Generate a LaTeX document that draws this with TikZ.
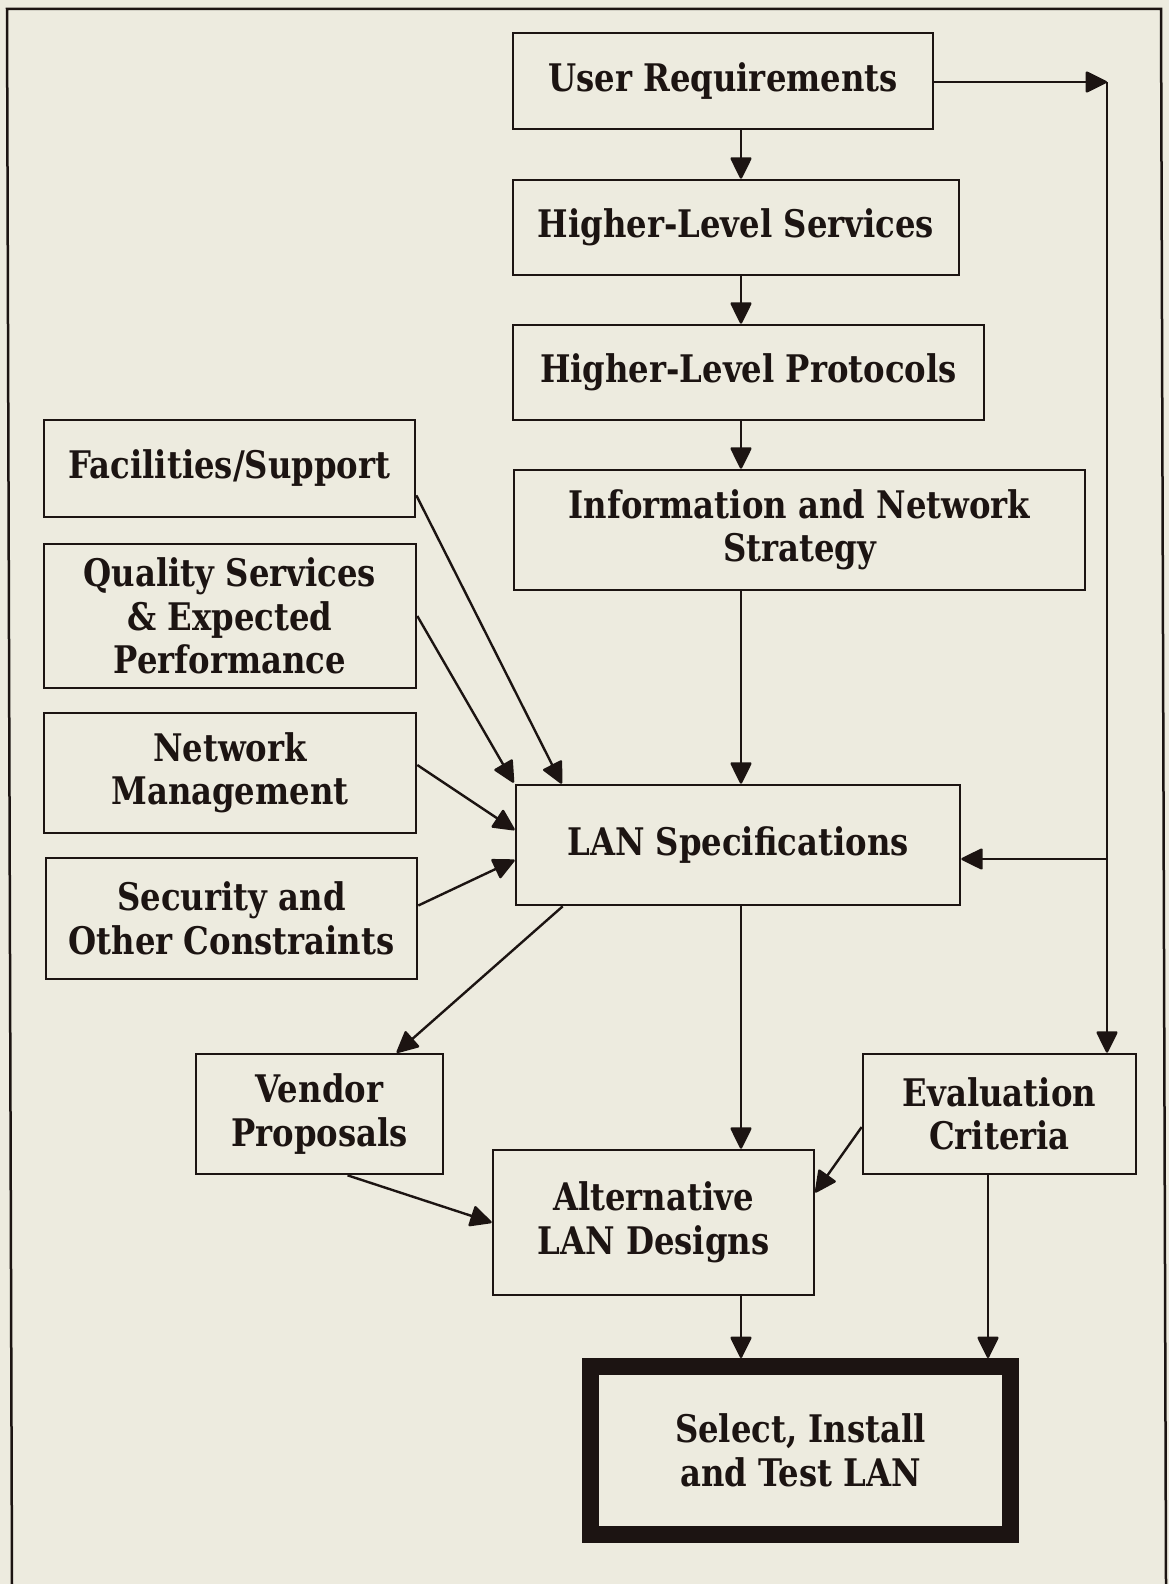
\documentclass[tikz,border=0pt]{standalone}
\usepackage{fontspec}
\setmainfont{DejaVu Serif}[FakeStretch=0.85]
\usetikzlibrary{arrows.meta,calc}
\definecolor{paper}{RGB}{237,235,223}
\definecolor{ink}{RGB}{28,20,18}
\begin{document}
\begin{tikzpicture}[x=1pt,y=-1pt,
  box/.style={draw=ink, line width=2.6pt, align=center, inner sep=0pt, text=ink,
    font=\fontsize{38}{43.5}\selectfont\bfseries},
  bigbox/.style={box, line width=17pt},
  arr/.style={draw=ink, line width=2.4pt, line join=round,
    -{Triangle[length=23pt,width=22pt,round]}}]

% page and frame
\useasboundingbox[fill=paper] (0,0) rectangle (1169,1584);
\draw[ink, line width=2.5pt] (12,1584) -- (7,9) -- (1161,9) -- (1166,1584);

% main chain
\node[box, minimum width=420pt, minimum height=96pt] (ur)  at (723,81)     {User Requirements};
\node[box, minimum width=446pt, minimum height=95pt] (hls) at (736,227.5)  {Higher-Level Services};
\node[box, minimum width=471pt, minimum height=95pt] (hlp) at (748.5,372.5){Higher-Level Protocols};
\node[box, minimum width=571pt, minimum height=120pt] (ins) at (799.5,530) {Information and Network\\Strategy};
\node[box, minimum width=444pt, minimum height=120pt] (lan) at (738,845)   {LAN Specifications};

% side inputs
\node[box, minimum width=371pt, minimum height=97pt]  (fac) at (229.5,468.5) {Facilities/Support};
\node[box, minimum width=372pt, minimum height=144pt] (qos) at (230,616)     {Quality Services\\\& Expected\\Performance};
\node[box, minimum width=372pt, minimum height=120pt] (nm)  at (230,773)     {Network\\Management};
\node[box, minimum width=371pt, minimum height=121pt] (sec) at (231.5,918.5) {Security and\\Other Constraints};

% lower part
\node[box, minimum width=247pt, minimum height=120pt] (ven) at (319.5,1114)  {Vendor\\Proposals};
\node[box, minimum width=273pt, minimum height=120pt] (eva) at (999.5,1114)  {Evaluation\\Criteria};
\node[box, minimum width=321pt, minimum height=145pt] (alt) at (653.5,1222.5){Alternative\\LAN Designs};
\node[bigbox, minimum width=420pt, minimum height=168pt] (sel) at (800.5,1450.5){Select, Install\\and Test LAN};

% routing points
\coordinate (spine) at (741,0);
\coordinate (bus) at (1107,82);
\coordinate (busLan) at (1107,859);
\coordinate (evx) at (988,0);

% vertical chain
\draw[arr] (ur.south -| spine)  -- (hls.north -| spine);
\draw[arr] (hls.south -| spine) -- (hlp.north -| spine);
\draw[arr] (hlp.south -| spine) -- (ins.north -| spine);
\draw[arr] (ins.south -| spine) -- (lan.north -| spine);
\draw[arr] (lan.south -| spine) -- (alt.north -| spine);
\draw[arr] (alt.south -| spine) -- (sel.north -| spine);
\draw[arr] (eva.south -| evx)   -- (sel.north -| evx);

% requirements bus on the right
\draw[arr] (ur.east |- bus) -- (bus);
\draw[arr] (bus) -- (eva.north -| bus);
\draw[arr] (busLan) -- (lan.east |- busLan);

% side inputs into the specifications
\draw[arr] ($(fac.south east)+(0,-23)$) -- ($(lan.north west)+(47,0)$);
\draw[arr] (qos.east) -- ($(lan.north west)+(-1,-1)$);
\draw[arr] ($(nm.east)+(0,-8)$) -- ($(lan.west)+(0,-15)$);
\draw[arr] ($(sec.east)+(0,-13)$) -- ($(lan.west)+(0,15)$);

% toward the designs
\draw[arr] ($(lan.south west)+(48,0)$) -- ($(ven.north west)+(202,0)$);
\draw[arr] ($(ven.south)+(28,0)$) -- (alt.west);
\draw[arr] ($(eva.west)+(0,13)$) -- ($(alt.east)+(0,-30)$);
\end{tikzpicture}
\end{document}
